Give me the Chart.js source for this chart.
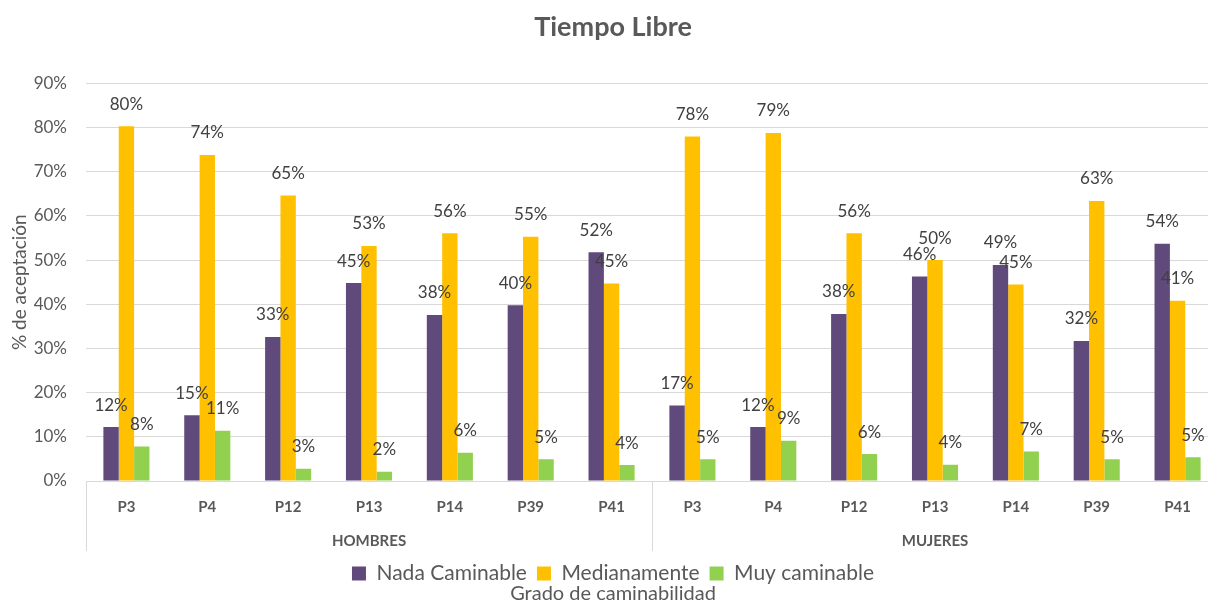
<!DOCTYPE html>
<html>
<head>
<meta charset="utf-8">
<script src="https://cdn.jsdelivr.net/npm/chart.js@4.4.1/dist/chart.umd.min.js"></script>
<style>
  html, body { margin: 0; padding: 0; background: #fff; overflow: hidden; }
  /* el área de trazado del original queda recortada por la derecha */
  #wrap { width: 1218px; height: 604px; }
</style>
</head>
<body>
<div id="wrap"><canvas id="graph1"></canvas></div>
<script>
const categorias = ['P3', 'P4', 'P12', 'P13', 'P14', 'P39', 'P41', 'P3', 'P4', 'P12', 'P13', 'P14', 'P39', 'P41'];
const grupos = ['HOMBRES', 'MUJERES'];
const nadaCaminable = [12.2, 14.9, 32.6, 44.8, 37.6, 39.8, 51.8, 17.1, 12.2, 37.8, 46.3, 48.9, 31.7, 53.7];
const medianamente = [80.3, 73.8, 64.6, 53.2, 56.1, 55.3, 44.7, 78.0, 78.8, 56.1, 50.0, 44.5, 63.4, 40.8];
const muyCaminable = [7.8, 11.4, 2.8, 2.1, 6.4, 4.9, 3.6, 4.9, 9.1, 6.1, 3.7, 6.7, 4.9, 5.4];
const ticksY = [0, 10, 20, 30, 40, 50, 60, 70, 80, 90];

const gris = '#595959';
const fuente = 'Lato, "Liberation Sans", sans-serif';

// etiquetas de valor encima de cada barra
const etiquetasPlugin = {
    id: 'etiquetas',
    afterDatasetsDraw(chart) {
        const ctx = chart.ctx;
        ctx.save();
        ctx.font = '17px ' + fuente;
        ctx.fillStyle = '#404040';
        ctx.textAlign = 'center';
        ctx.textBaseline = 'middle';
        chart.data.datasets.forEach((ds, i) => {
            chart.getDatasetMeta(i).data.forEach((bar, j) => {
                ctx.fillText(Math.round(ds.data[j]) + '%', bar.x, bar.y - 22);
            });
        });
        ctx.restore();
    }
};

// eje de categorias con dos niveles (HOMBRES / MUJERES)
const gruposPlugin = {
    id: 'grupos',
    afterDraw(chart) {
        const ctx = chart.ctx;
        const x = chart.scales.x;
        const area = chart.chartArea;
        const n = categorias.length / grupos.length;
        const paso = x.getPixelForValue(1) - x.getPixelForValue(0);
        ctx.save();
        ctx.strokeStyle = '#d9d9d9';
        ctx.lineWidth = 1;
        for (let g = 0; g <= grupos.length; g++) {
            const px = Math.round(x.getPixelForValue(g * n) - paso / 2) + 0.5;
            ctx.beginPath();
            ctx.moveTo(px, area.bottom);
            ctx.lineTo(px, area.bottom + 70);
            ctx.stroke();
        }
        ctx.font = 'bold 15px ' + fuente;
        ctx.fillStyle = gris;
        ctx.textAlign = 'center';
        ctx.textBaseline = 'middle';
        grupos.forEach((g, i) => {
            const a = x.getPixelForValue(i * n);
            const b = x.getPixelForValue(i * n + n - 1);
            ctx.fillText(g, (a + b) / 2, area.bottom + 60);
        });
        ctx.restore();
    }
};

const ctx = document.getElementById('graph1').getContext('2d');
const chart = new Chart(ctx, {
    type: 'bar',
    data: {
        labels: categorias,
        datasets: [{
            label: 'Nada Caminable',
            data: nadaCaminable,
            backgroundColor: '#604a7b'
        }, {
            label: 'Medianamente',
            data: medianamente,
            backgroundColor: '#ffc000'
        }, {
            label: 'Muy caminable',
            data: muyCaminable,
            backgroundColor: '#92d050'
        }]
    },
    options: {
        responsive: true,
        maintainAspectRatio: false,
        animation: false,
        layout: { padding: { left: 8, right: 0, top: 0, bottom: 0 } },
        datasets: {
            bar: { categoryPercentage: 0.57, barPercentage: 1.0 }
        },
        scales: {
            x: {
                grid: { display: false },
                border: { display: false },
                ticks: {
                    color: gris,
                    font: { family: fuente, size: 15, weight: 'bold' },
                    padding: 9
                },
                afterFit(scale) { scale.height = 72; }
            },
            y: {
                min: 0,
                max: 90,
                afterBuildTicks(scale) { scale.ticks = ticksY.map(v => ({ value: v })); },
                afterFit(scale) { scale.width = 78; },
                grid: { color: '#d9d9d9', drawTicks: false },
                border: { display: false },
                ticks: {
                    color: gris,
                    font: { family: fuente, size: 17 },
                    padding: 19,
                    callback: (v) => v + '%'
                },
                title: {
                    display: true,
                    text: '% de aceptación',
                    color: gris,
                    font: { family: fuente, size: 19 },
                    padding: { top: 0, bottom: 0 }
                }
            }
        },
        plugins: {
            title: {
                display: true,
                text: 'Tiempo Libre',
                color: gris,
                font: { family: fuente, size: 27, weight: 'bold' },
                padding: { top: 11, bottom: 40 }
            },
            subtitle: {
                display: true,
                position: 'bottom',
                text: 'Grado de caminabilidad',
                color: gris,
                font: { family: fuente, size: 20, lineHeight: 1 },
                padding: { top: -10, bottom: 0 }
            },
            legend: {
                position: 'bottom',
                labels: {
                    color: gris,
                    font: { family: fuente, size: 21, lineHeight: 1 },
                    boxWidth: 14,
                    boxHeight: 14,
                    padding: 10
                }
            },
            tooltip: { enabled: false }
        }
    },
    plugins: [etiquetasPlugin, gruposPlugin]
});
</script>
</body>
</html>
